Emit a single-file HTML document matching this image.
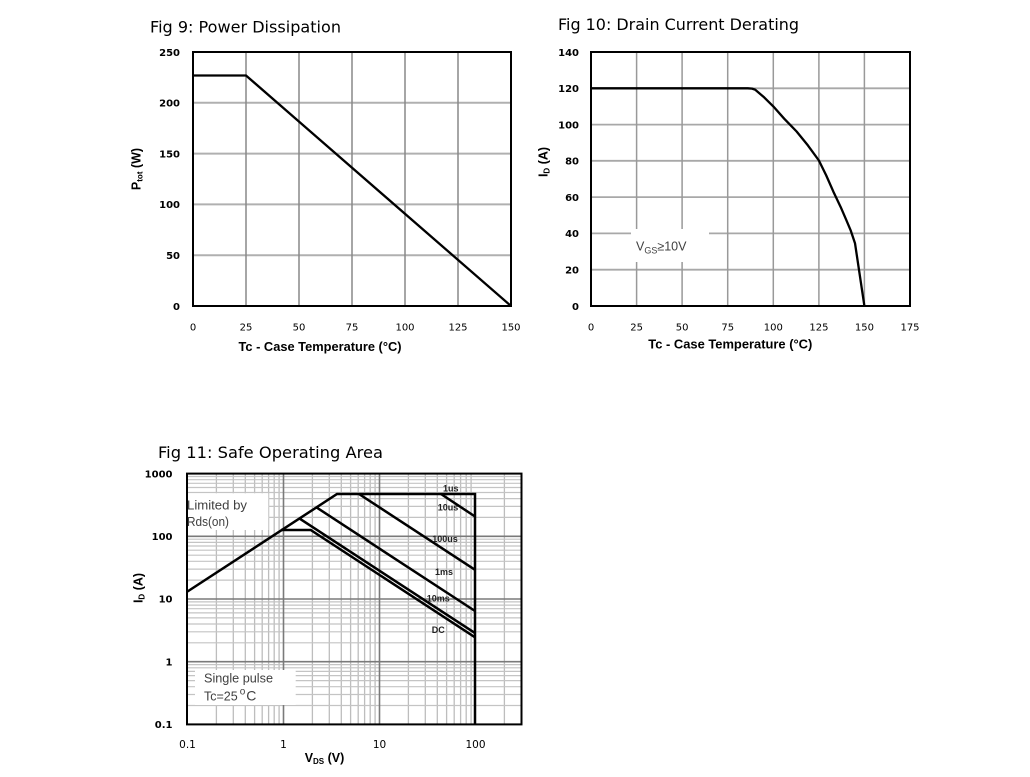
<!DOCTYPE html>
<html><head><meta charset="utf-8"><style>
html,body{margin:0;padding:0;background:#fff;}
svg{display:block;}
.t{font-family:"DejaVu Sans","Liberation Sans",sans-serif;font-size:16px;fill:#000;}
.yl{font-family:"DejaVu Sans","Liberation Sans",sans-serif;font-size:10px;font-weight:bold;fill:#000;text-anchor:end;}
.xl{font-family:"DejaVu Sans","Liberation Sans",sans-serif;font-size:10px;fill:#000;text-anchor:middle;}
.xl2{font-family:"DejaVu Sans","Liberation Sans",sans-serif;font-size:10.5px;fill:#000;text-anchor:middle;}
.at{font-family:"Liberation Sans",Arial,sans-serif;font-size:12.5px;font-weight:bold;fill:#000;}
.an{font-family:"Liberation Sans",Arial,sans-serif;font-size:12.5px;fill:#404040;}
.cl{font-family:"Liberation Sans",Arial,sans-serif;font-size:9px;font-weight:bold;fill:#222;text-anchor:middle;}
</style></head><body>
<svg width="1030" height="777" viewBox="0 0 1030 777" xmlns="http://www.w3.org/2000/svg">
<rect width="1030" height="777" fill="#fff"/>

<!-- ================= FIG 9 ================= -->
<text class="t" x="150" y="32.5" textLength="191" lengthAdjust="spacingAndGlyphs">Fig 9: Power Dissipation</text>
<g stroke="#b0b0b0" stroke-width="2">
<line x1="193" y1="255.2" x2="511" y2="255.2"/>
<line x1="193" y1="204.4" x2="511" y2="204.4"/>
<line x1="193" y1="153.6" x2="511" y2="153.6"/>
<line x1="193" y1="102.8" x2="511" y2="102.8"/>
</g>
<g stroke="#888" stroke-width="1.5">
<line x1="246" y1="52" x2="246" y2="306"/>
<line x1="299" y1="52" x2="299" y2="306"/>
<line x1="352" y1="52" x2="352" y2="306"/>
<line x1="405" y1="52" x2="405" y2="306"/>
<line x1="458" y1="52" x2="458" y2="306"/>
</g>
<rect x="193" y="52" width="318" height="254" fill="none" stroke="#000" stroke-width="2"/>
<polyline points="193,75.5 246,75.5 511,306" fill="none" stroke="#000" stroke-width="2.3"/>
<text class="yl" x="180" y="55.8">250</text>
<text class="yl" x="180" y="106.6">200</text>
<text class="yl" x="180" y="157.4">150</text>
<text class="yl" x="180" y="208.2">100</text>
<text class="yl" x="180" y="259">50</text>
<text class="yl" x="180" y="309.8">0</text>
<text class="xl" x="193" y="330.5">0</text>
<text class="xl" x="246" y="330.5">25</text>
<text class="xl" x="299" y="330.5">50</text>
<text class="xl" x="352" y="330.5">75</text>
<text class="xl" x="405" y="330.5">100</text>
<text class="xl" x="458" y="330.5">125</text>
<text class="xl" x="511" y="330.5">150</text>
<text class="at" x="238.5" y="351" textLength="163" lengthAdjust="spacingAndGlyphs">Tc - Case Temperature (°C)</text>
<text class="at" transform="translate(140.5,169) rotate(-90)" text-anchor="middle">P<tspan font-size="8" dy="2">tot</tspan><tspan dy="-2"> (W)</tspan></text>

<!-- ================= FIG 10 ================= -->
<text class="t" x="558" y="30" textLength="241" lengthAdjust="spacingAndGlyphs">Fig 10: Drain Current Derating</text>
<g stroke="#a8a8a8" stroke-width="1.8">
<line x1="591" y1="269.7" x2="910" y2="269.7"/>
<line x1="591" y1="233.4" x2="910" y2="233.4"/>
<line x1="591" y1="197.1" x2="910" y2="197.1"/>
<line x1="591" y1="160.8" x2="910" y2="160.8"/>
<line x1="591" y1="124.6" x2="910" y2="124.6"/>
<line x1="591" y1="88.3" x2="910" y2="88.3"/>
</g>
<g stroke="#999" stroke-width="1.5">
<line x1="636.6" y1="52" x2="636.6" y2="306"/>
<line x1="682.1" y1="52" x2="682.1" y2="306"/>
<line x1="727.7" y1="52" x2="727.7" y2="306"/>
<line x1="773.3" y1="52" x2="773.3" y2="306"/>
<line x1="818.9" y1="52" x2="818.9" y2="306"/>
<line x1="864.4" y1="52" x2="864.4" y2="306"/>
</g>
<rect x="631" y="229" width="78" height="33" fill="#fff"/>
<rect x="591" y="52" width="319" height="254" fill="none" stroke="#000" stroke-width="2"/>
<polyline points="591,88.3 747.8,88.3 752,88.6 755.1,89.6 764.2,97.4 773.3,106.4 784.2,118.7 796.6,131.5 807.9,145.4 818.9,160.5 826.2,175.4 833.4,191.7 840.7,207.1 846.2,219.8 850.8,230.7 855,243.2 864.4,306" fill="none" stroke="#000" stroke-width="2.3" stroke-linejoin="round"/>
<text class="an" x="636" y="250.5" font-size="14">V<tspan font-size="9" dy="3">GS</tspan><tspan dy="-3">≥10V</tspan></text>
<text class="yl" x="579" y="55.8">140</text>
<text class="yl" x="579" y="92">120</text>
<text class="yl" x="579" y="128.3">100</text>
<text class="yl" x="579" y="164.5">80</text>
<text class="yl" x="579" y="200.8">60</text>
<text class="yl" x="579" y="237.1">40</text>
<text class="yl" x="579" y="273.4">20</text>
<text class="yl" x="579" y="309.8">0</text>
<text class="xl" x="591" y="330.5">0</text>
<text class="xl" x="636.6" y="330.5">25</text>
<text class="xl" x="682.1" y="330.5">50</text>
<text class="xl" x="727.7" y="330.5">75</text>
<text class="xl" x="773.3" y="330.5">100</text>
<text class="xl" x="818.9" y="330.5">125</text>
<text class="xl" x="864.4" y="330.5">150</text>
<text class="xl" x="910" y="330.5">175</text>
<text class="at" x="648.3" y="348.5" textLength="164" lengthAdjust="spacingAndGlyphs">Tc - Case Temperature (°C)</text>
<text class="at" transform="translate(547.5,162) rotate(-90)" text-anchor="middle">I<tspan font-size="8" dy="2">D</tspan><tspan dy="-2"> (A)</tspan></text>

<!-- ================= FIG 11 ================= -->
<text class="t" x="158" y="458" textLength="225" lengthAdjust="spacingAndGlyphs">Fig 11: Safe Operating Area</text>
<g stroke="#bdbdbd" stroke-width="1.3">
<line x1="216.4" y1="473.6" x2="216.4" y2="724.4"/><line x1="233.3" y1="473.6" x2="233.3" y2="724.4"/><line x1="245.3" y1="473.6" x2="245.3" y2="724.4"/><line x1="254.6" y1="473.6" x2="254.6" y2="724.4"/><line x1="262.2" y1="473.6" x2="262.2" y2="724.4"/><line x1="268.6" y1="473.6" x2="268.6" y2="724.4"/><line x1="274.2" y1="473.6" x2="274.2" y2="724.4"/><line x1="279.1" y1="473.6" x2="279.1" y2="724.4"/>
<line x1="312.4" y1="473.6" x2="312.4" y2="724.4"/><line x1="329.3" y1="473.6" x2="329.3" y2="724.4"/><line x1="341.3" y1="473.6" x2="341.3" y2="724.4"/><line x1="350.6" y1="473.6" x2="350.6" y2="724.4"/><line x1="358.2" y1="473.6" x2="358.2" y2="724.4"/><line x1="364.6" y1="473.6" x2="364.6" y2="724.4"/><line x1="370.2" y1="473.6" x2="370.2" y2="724.4"/><line x1="375.1" y1="473.6" x2="375.1" y2="724.4"/>
<line x1="408.4" y1="473.6" x2="408.4" y2="724.4"/><line x1="425.3" y1="473.6" x2="425.3" y2="724.4"/><line x1="437.3" y1="473.6" x2="437.3" y2="724.4"/><line x1="446.6" y1="473.6" x2="446.6" y2="724.4"/><line x1="454.2" y1="473.6" x2="454.2" y2="724.4"/><line x1="460.6" y1="473.6" x2="460.6" y2="724.4"/><line x1="466.2" y1="473.6" x2="466.2" y2="724.4"/><line x1="471.1" y1="473.6" x2="471.1" y2="724.4"/>
<line x1="504.4" y1="473.6" x2="504.4" y2="724.4"/>
</g>
<g stroke="#c4c4c4" stroke-width="1.2">
<line x1="187" y1="705.5" x2="521.5" y2="705.5"/><line x1="187" y1="694.5" x2="521.5" y2="694.5"/><line x1="187" y1="686.7" x2="521.5" y2="686.7"/><line x1="187" y1="680.6" x2="521.5" y2="680.6"/><line x1="187" y1="675.6" x2="521.5" y2="675.6"/><line x1="187" y1="671.4" x2="521.5" y2="671.4"/><line x1="187" y1="667.8" x2="521.5" y2="667.8"/><line x1="187" y1="664.6" x2="521.5" y2="664.6"/>
<line x1="187" y1="642.8" x2="521.5" y2="642.8"/><line x1="187" y1="631.8" x2="521.5" y2="631.8"/><line x1="187" y1="624" x2="521.5" y2="624"/><line x1="187" y1="617.9" x2="521.5" y2="617.9"/><line x1="187" y1="612.9" x2="521.5" y2="612.9"/><line x1="187" y1="608.7" x2="521.5" y2="608.7"/><line x1="187" y1="605.1" x2="521.5" y2="605.1"/><line x1="187" y1="601.9" x2="521.5" y2="601.9"/>
<line x1="187" y1="580.1" x2="521.5" y2="580.1"/><line x1="187" y1="569.1" x2="521.5" y2="569.1"/><line x1="187" y1="561.3" x2="521.5" y2="561.3"/><line x1="187" y1="555.2" x2="521.5" y2="555.2"/><line x1="187" y1="550.2" x2="521.5" y2="550.2"/><line x1="187" y1="546" x2="521.5" y2="546"/><line x1="187" y1="542.4" x2="521.5" y2="542.4"/><line x1="187" y1="539.2" x2="521.5" y2="539.2"/>
<line x1="187" y1="517.4" x2="521.5" y2="517.4"/><line x1="187" y1="506.4" x2="521.5" y2="506.4"/><line x1="187" y1="498.6" x2="521.5" y2="498.6"/><line x1="187" y1="492.5" x2="521.5" y2="492.5"/><line x1="187" y1="487.5" x2="521.5" y2="487.5"/><line x1="187" y1="483.3" x2="521.5" y2="483.3"/><line x1="187" y1="479.7" x2="521.5" y2="479.7"/><line x1="187" y1="476.5" x2="521.5" y2="476.5"/>
</g>
<g stroke="#7a7a7a" stroke-width="1.6">
<line x1="187" y1="661.7" x2="521.5" y2="661.7"/>
<line x1="187" y1="599" x2="521.5" y2="599"/>
<line x1="187" y1="536.3" x2="521.5" y2="536.3"/>
<line x1="283.5" y1="473.6" x2="283.5" y2="724.4"/>
<line x1="379.5" y1="473.6" x2="379.5" y2="724.4"/>
</g>
<rect x="187" y="493.3" width="81.3" height="36.7" fill="#fff"/>
<rect x="195" y="670" width="100.7" height="35" fill="#fff"/>
<rect x="187" y="473.6" width="334.5" height="250.8" fill="none" stroke="#000" stroke-width="2"/>
<g fill="none" stroke="#000" stroke-width="2.5" stroke-linejoin="miter">
<polyline points="187.5,591.5 337,494 475,494 475,724.4"/>
<line x1="441" y1="494" x2="475" y2="516.5"/>
<line x1="359" y1="494" x2="475" y2="569.8"/>
<line x1="316" y1="507.1" x2="475" y2="611"/>
<line x1="299" y1="518.2" x2="475" y2="633.1"/>
<polyline points="281,530 310.7,530 475,637.3"/>
</g>
<text class="cl" x="450.8" y="491.5">1us</text>
<text class="cl" x="448" y="510.5">10us</text>
<text class="cl" x="445" y="542">100us</text>
<text class="cl" x="444" y="575">1ms</text>
<text class="cl" x="438.3" y="601.7">10ms</text>
<text class="cl" x="438.3" y="633">DC</text>
<text class="an" x="187" y="509.3" textLength="60" lengthAdjust="spacingAndGlyphs">Limited by</text>
<text class="an" x="187" y="526" textLength="42" lengthAdjust="spacingAndGlyphs">Rds(on)</text>
<text class="an" x="204" y="682.7" textLength="69" lengthAdjust="spacingAndGlyphs">Single pulse</text>
<text class="an" x="204" y="700.7">Tc=25<tspan font-size="10" dy="-6" dx="2">o</tspan><tspan font-size="14" dy="6" dx="1">C</tspan></text>
<text class="yl" x="172.5" y="477.3">1000</text>
<text class="yl" x="172.5" y="540">100</text>
<text class="yl" x="172.5" y="602.7">10</text>
<text class="yl" x="172.5" y="665.4">1</text>
<text class="yl" x="172.5" y="728">0.1</text>
<text class="xl2" x="187.5" y="748">0.1</text>
<text class="xl2" x="283.5" y="748">1</text>
<text class="xl2" x="379.5" y="748">10</text>
<text class="xl2" x="475.5" y="748">100</text>
<text class="at" x="324.5" y="762" text-anchor="middle">V<tspan font-size="8" dy="2">DS</tspan><tspan dy="-2"> (V)</tspan></text>
<text class="at" transform="translate(142.5,588) rotate(-90)" text-anchor="middle">I<tspan font-size="8" dy="2">D</tspan><tspan dy="-2"> (A)</tspan></text>
</svg>
</body></html>
